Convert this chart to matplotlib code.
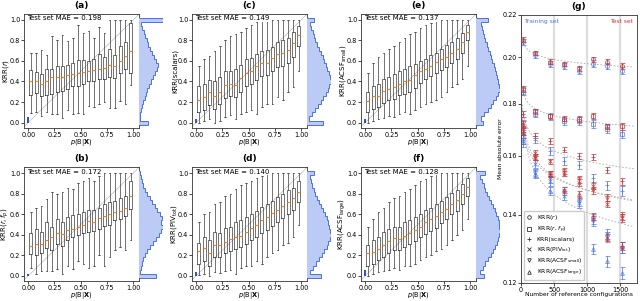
import matplotlib
matplotlib.use("Agg")
import matplotlib.pyplot as plt
from matplotlib.lines import Line2D
import numpy as np


FS = 5.0
FS_TICK = 4.7
FS_G = 4.3
BOX_C = "#3a3a3a"
HIST_FILL = "#bccbf6"
HIST_EDGE = "#4a6fe3"
RED = "#c53a3a"
BLUE = "#4f74e3"

# ---------------- panels (a)-(f): binned box plots -----------------
bin_centres = np.linspace(0.025, 0.975, 20)
hist_edges = np.linspace(-0.02, 1.02, 27)

panel_tags = ["(a)", "(b)", "(c)", "(d)", "(e)", "(f)"]
panel_ylabels = ["KRR($r$)", "KRR($r, f_p$)", "KRR(scalars)",
                 "KRR(PIV$_{\\rm tot}$)", "KRR(ACSF$_{\\rm small}$)",
                 "KRR(ACSF$_{\\rm large}$)"]
panel_mae = [0.198, 0.172, 0.149, 0.140, 0.137, 0.128]
zero_tail = [0.05, 0.02, 0.03, 0.04, 0.03, 0.06]

a_med = [0.40, 0.40, 0.38, 0.40, 0.44, 0.44, 0.44, 0.46, 0.47, 0.48, 0.49, 0.50, 0.51, 0.52, 0.53, 0.56, 0.55, 0.60, 0.65, 0.70]
a_q1 = [0.27, 0.29, 0.26, 0.27, 0.28, 0.30, 0.31, 0.33, 0.36, 0.36, 0.38, 0.40, 0.40, 0.42, 0.42, 0.44, 0.43, 0.48, 0.52, 0.48]
a_q3 = [0.51, 0.49, 0.47, 0.52, 0.52, 0.55, 0.55, 0.56, 0.58, 0.61, 0.61, 0.60, 0.62, 0.67, 0.64, 0.72, 0.66, 0.75, 0.78, 0.97]
a_lo = [0.09, 0.10, 0.06, 0.10, 0.08, 0.08, 0.04, 0.12, 0.08, 0.09, 0.08, 0.16, 0.15, 0.18, 0.20, 0.14, 0.14, 0.21, 0.18, 0.37]
a_hi = [0.68, 0.68, 0.71, 0.66, 0.84, 0.80, 0.85, 0.79, 0.82, 0.95, 0.87, 0.89, 0.82, 0.93, 0.87, 1.00, 1.00, 1.00, 1.00, 1.00]

b_med = [0.29, 0.31, 0.31, 0.35, 0.38, 0.42, 0.41, 0.45, 0.46, 0.48, 0.50, 0.53, 0.52, 0.56, 0.58, 0.60, 0.62, 0.63, 0.66, 0.78]
b_q1 = [0.21, 0.20, 0.22, 0.27, 0.25, 0.31, 0.29, 0.35, 0.38, 0.40, 0.42, 0.43, 0.44, 0.46, 0.49, 0.50, 0.54, 0.55, 0.58, 0.65]
b_q3 = [0.42, 0.46, 0.43, 0.52, 0.48, 0.55, 0.52, 0.57, 0.59, 0.60, 0.62, 0.64, 0.64, 0.66, 0.70, 0.72, 0.73, 0.76, 0.78, 0.92]
b_lo = [0.08, 0.02, 0.05, 0.05, 0.05, 0.07, 0.02, 0.10, 0.07, 0.14, 0.12, 0.08, 0.10, 0.20, 0.10, 0.18, 0.25, 0.28, 0.25, 0.35]
b_hi = [0.62, 0.66, 0.68, 0.75, 0.82, 0.80, 0.82, 0.86, 0.85, 0.90, 0.92, 0.95, 0.92, 0.97, 1.00, 1.00, 1.00, 1.00, 1.00, 1.00]

c_med = [0.22, 0.25, 0.30, 0.26, 0.30, 0.37, 0.38, 0.37, 0.43, 0.48, 0.50, 0.55, 0.58, 0.58, 0.63, 0.67, 0.68, 0.71, 0.77, 0.85]
c_q1 = [0.10, 0.12, 0.17, 0.13, 0.18, 0.24, 0.26, 0.25, 0.30, 0.36, 0.38, 0.41, 0.45, 0.46, 0.50, 0.54, 0.55, 0.58, 0.64, 0.75]
c_q3 = [0.36, 0.38, 0.41, 0.40, 0.44, 0.50, 0.50, 0.52, 0.56, 0.62, 0.63, 0.67, 0.70, 0.71, 0.74, 0.78, 0.80, 0.82, 0.88, 0.94]
c_lo = [0.00, 0.02, 0.03, 0.00, 0.02, 0.05, 0.07, 0.03, 0.08, 0.10, 0.12, 0.08, 0.15, 0.18, 0.18, 0.25, 0.22, 0.30, 0.35, 0.50]
c_hi = [0.55, 0.62, 0.65, 0.70, 0.75, 0.80, 0.84, 0.86, 0.88, 0.92, 0.95, 0.98, 1.00, 1.00, 1.00, 1.00, 1.00, 1.00, 1.00, 1.00]

d_med = [0.24, 0.27, 0.22, 0.30, 0.30, 0.33, 0.36, 0.38, 0.39, 0.43, 0.47, 0.50, 0.54, 0.57, 0.61, 0.64, 0.68, 0.72, 0.76, 0.82]
d_q1 = [0.12, 0.14, 0.10, 0.18, 0.18, 0.22, 0.24, 0.26, 0.28, 0.31, 0.35, 0.38, 0.42, 0.45, 0.49, 0.52, 0.56, 0.60, 0.64, 0.72]
d_q3 = [0.32, 0.38, 0.35, 0.43, 0.42, 0.47, 0.48, 0.52, 0.54, 0.57, 0.60, 0.63, 0.67, 0.70, 0.73, 0.77, 0.80, 0.84, 0.86, 0.92]
d_lo = [0.01, 0.02, 0.00, 0.04, 0.03, 0.05, 0.06, 0.02, 0.08, 0.10, 0.10, 0.14, 0.12, 0.18, 0.22, 0.25, 0.30, 0.32, 0.38, 0.50]
d_hi = [0.52, 0.60, 0.62, 0.70, 0.72, 0.78, 0.80, 0.85, 0.88, 0.90, 0.92, 0.95, 0.97, 1.00, 1.00, 1.00, 1.00, 1.00, 1.00, 1.00]

e_med = [0.21, 0.26, 0.26, 0.31, 0.33, 0.35, 0.38, 0.40, 0.41, 0.46, 0.50, 0.52, 0.55, 0.59, 0.62, 0.64, 0.68, 0.72, 0.78, 0.88]
e_q1 = [0.10, 0.13, 0.15, 0.19, 0.22, 0.23, 0.27, 0.28, 0.30, 0.34, 0.39, 0.42, 0.45, 0.48, 0.51, 0.54, 0.58, 0.62, 0.68, 0.80]
e_q3 = [0.30, 0.36, 0.38, 0.42, 0.44, 0.47, 0.50, 0.52, 0.55, 0.57, 0.60, 0.62, 0.66, 0.68, 0.72, 0.76, 0.78, 0.82, 0.87, 0.95]
e_lo = [0.00, 0.02, 0.03, 0.04, 0.06, 0.05, 0.08, 0.10, 0.08, 0.12, 0.15, 0.18, 0.20, 0.22, 0.25, 0.30, 0.35, 0.38, 0.42, 0.55]
e_hi = [0.48, 0.58, 0.64, 0.68, 0.72, 0.75, 0.78, 0.82, 0.86, 0.88, 0.92, 0.95, 0.97, 1.00, 1.00, 1.00, 1.00, 1.00, 1.00, 1.00]

f_med = [0.22, 0.23, 0.26, 0.30, 0.34, 0.37, 0.36, 0.39, 0.42, 0.45, 0.48, 0.52, 0.55, 0.58, 0.62, 0.65, 0.70, 0.74, 0.80, 0.87]
f_q1 = [0.10, 0.12, 0.15, 0.18, 0.22, 0.25, 0.25, 0.28, 0.31, 0.34, 0.38, 0.41, 0.44, 0.47, 0.51, 0.55, 0.60, 0.63, 0.70, 0.78]
f_q3 = [0.30, 0.35, 0.38, 0.43, 0.46, 0.48, 0.48, 0.52, 0.54, 0.57, 0.60, 0.64, 0.66, 0.70, 0.73, 0.77, 0.81, 0.84, 0.89, 0.95]
f_lo = [0.00, 0.02, 0.04, 0.05, 0.06, 0.08, 0.06, 0.10, 0.10, 0.12, 0.15, 0.18, 0.20, 0.24, 0.26, 0.30, 0.35, 0.40, 0.45, 0.55]
f_hi = [0.48, 0.55, 0.62, 0.66, 0.72, 0.76, 0.78, 0.82, 0.85, 0.88, 0.92, 0.94, 0.97, 1.00, 1.00, 1.00, 1.00, 1.00, 1.00, 1.00]

# marginal histograms of predictions (relative counts, bottom -> top)
a_hist = [0.38, 0.04, 0.06, 0.10, 0.14, 0.18, 0.24, 0.30, 0.36, 0.44, 0.52, 0.60, 0.68, 0.76, 0.80, 0.72, 0.64, 0.56, 0.48, 0.40, 0.32, 0.26, 0.20, 0.14, 0.10, 1.00]
b_hist = [0.74, 0.04, 0.08, 0.12, 0.18, 0.26, 0.36, 0.48, 0.60, 0.74, 0.86, 0.95, 1.00, 0.92, 0.96, 0.88, 0.78, 0.68, 0.56, 0.46, 0.36, 0.26, 0.18, 0.12, 0.08, 0.05]
c_hist = [0.70, 0.10, 0.22, 0.36, 0.48, 0.58, 0.70, 0.80, 0.88, 0.94, 1.00, 0.96, 0.92, 0.86, 0.80, 0.74, 0.66, 0.58, 0.50, 0.42, 0.36, 0.30, 0.24, 0.18, 0.12, 0.30]
d_hist = [0.60, 0.12, 0.24, 0.38, 0.52, 0.64, 0.74, 0.84, 0.90, 0.96, 1.00, 0.97, 0.94, 0.90, 0.84, 0.76, 0.68, 0.60, 0.52, 0.44, 0.36, 0.28, 0.22, 0.16, 0.12, 0.30]
e_hist = [0.30, 0.20, 0.35, 0.50, 0.62, 0.74, 0.86, 0.94, 1.00, 0.98, 0.92, 0.90, 0.86, 0.80, 0.76, 0.70, 0.64, 0.58, 0.52, 0.46, 0.40, 0.36, 0.30, 0.24, 0.20, 0.50]
f_hist = [0.35, 0.15, 0.28, 0.40, 0.52, 0.64, 0.74, 0.82, 0.88, 0.92, 0.96, 1.00, 0.98, 0.96, 0.92, 0.86, 0.80, 0.72, 0.64, 0.56, 0.48, 0.40, 0.32, 0.24, 0.18, 0.40]

box_data = [
    (a_med, a_q1, a_q3, a_lo, a_hi, a_hist),
    (b_med, b_q1, b_q3, b_lo, b_hi, b_hist),
    (c_med, c_q1, c_q3, c_lo, c_hi, c_hist),
    (d_med, d_q1, d_q3, d_lo, d_hi, d_hist),
    (e_med, e_q1, e_q3, e_lo, e_hi, e_hist),
    (f_med, f_q1, f_q3, f_lo, f_hi, f_hist),
]

# ---------------- panel (g): learning curves -----------------
n_ref = [25, 210, 430, 650, 870, 1085, 1300, 1520]
series_labels = ["KRR($r$)", "KRR($r$, $f_p$)", "KRR(scalars)", "KRR(PIV$_{\\rm tot}$)",
                 "KRR(ACSF$_{\\rm small}$)", "KRR(ACSF$_{\\rm large}$)"]
series_markers = ["o", "s", "+", "x", "v", "^"]

test_r = [0.208, 0.202, 0.198, 0.197, 0.195, 0.199, 0.198, 0.196]
train_r = [0.207, 0.201, 0.197, 0.196, 0.194, 0.197, 0.196, 0.194]
test_rfp = [0.186, 0.177, 0.175, 0.174, 0.174, 0.175, 0.171, 0.171]
train_rfp = [0.185, 0.176, 0.175, 0.173, 0.173, 0.172, 0.170, 0.168]
test_scal = [0.176, 0.1675, 0.1655, 0.1622, 0.160, 0.1596, 0.155, 0.151]
train_scal = [0.172, 0.166, 0.1618, 0.158, 0.1567, 0.152, 0.1497, 0.1478]
test_piv = [0.172, 0.161, 0.158, 0.1537, 0.1506, 0.1496, 0.1435, 0.139]
train_piv = [0.168, 0.157, 0.151, 0.1462, 0.1437, 0.1387, 0.1342, 0.130]
test_small = [0.170, 0.1595, 0.1537, 0.1545, 0.1517, 0.148, 0.1455, 0.1396]
train_small = [0.166, 0.1538, 0.152, 0.1478, 0.1442, 0.138, 0.1333, 0.130]
test_large = [0.169, 0.1595, 0.1535, 0.148, 0.1467, 0.1396, 0.133, 0.1306]
train_large = [0.165, 0.1535, 0.1478, 0.1396, 0.136, 0.1296, 0.126, 0.1227]

test_err = [0.0012, 0.0010, 0.0010, 0.0010, 0.0011, 0.0011, 0.0011, 0.0012]
train_err = [0.0016, 0.0014, 0.0014, 0.0014, 0.0015, 0.0015, 0.0015, 0.0016]

test_all = [test_r, test_rfp, test_scal, test_piv, test_small, test_large]
train_all = [train_r, train_rfp, train_scal, train_piv, train_small, train_large]


plt.rcParams["font.family"] = "DejaVu Sans"
plt.rcParams["axes.linewidth"] = 0.6
plt.rcParams["axes.edgecolor"] = "#333333"

fig = plt.figure(figsize=(6.4, 3.01), dpi=100)
W, H = 640.0, 301.0

col_left = [24, 192, 361]
row_bottom = [127.7, 281.0]
ax_w, ax_h, hist_w = 115, 114, 24

for i, (med, q1, q3, lo, hi, hcounts) in enumerate(box_data):
    row, col = i % 2, i // 2
    left = col_left[col] / W
    bottom = 1 - row_bottom[row] / H
    ax = fig.add_axes([left, bottom, ax_w / W, ax_h / H])

    ax.plot([-0.1, 1.2], [-0.1, 1.2], color="#bbbbbb", lw=0.5, zorder=1)
    ax.vlines(0, 0, zero_tail[i], color="#1f3fbf", lw=1.3, zorder=2)

    stats = [dict(med=m, q1=a, q3=b, whislo=l, whishi=h, fliers=[])
             for m, a, b, l, h in zip(med, q1, q3, lo, hi)]
    ax.bxp(stats, positions=bin_centres, widths=0.03, showfliers=False,
           boxprops=dict(color=BOX_C, lw=0.5),
           whiskerprops=dict(color=BOX_C, lw=0.5),
           capprops=dict(color=BOX_C, lw=0.5),
           medianprops=dict(color="#ff7f0e", lw=0.8), manage_ticks=False)

    ax.set_xlim(-0.04, 1.055)
    ax.set_ylim(-0.05, 1.06)
    ax.set_xticks([0, 0.25, 0.5, 0.75, 1.0])
    ax.set_xticklabels(["0.00", "0.25", "0.50", "0.75", "1.00"])
    ax.set_yticks([0, 0.2, 0.4, 0.6, 0.8, 1.0])
    ax.tick_params(labelsize=FS_TICK, length=2, width=0.5, pad=0.8)
    ax.set_xlabel("$p$(B|$\\mathbf{X}$)", fontsize=4.8)
    ax.xaxis.set_label_coords(0.5, -0.08)
    ax.set_ylabel(panel_ylabels[i], fontsize=FS)
    ax.yaxis.set_label_coords(-0.115, 0.5)
    ax.set_title(panel_tags[i], fontsize=6.5, fontweight="bold", pad=4)
    ax.text(0.025, 0.985, f"Test set MAE = {panel_mae[i]:.3f}", transform=ax.transAxes,
            fontsize=FS, va="top", ha="left",
            bbox=dict(fc="white", ec="none", pad=0.4))

    hax = fig.add_axes([left + ax_w / W, bottom, hist_w / W, ax_h / H])
    hax.stairs(hcounts, hist_edges, orientation="horizontal", fill=True,
               color=HIST_FILL, lw=0)
    hax.stairs(hcounts, hist_edges, orientation="horizontal", fill=False,
               color=HIST_EDGE, lw=0.7)
    hax.set_ylim(-0.05, 1.06)
    hax.set_xlim(0, max(hcounts) * 1.02)
    hax.axis("off")

# panel g
gax = fig.add_axes([521 / W, 1 - 283 / H, 116 / W, 268 / H])
gax.set_yscale("log")
xfit = np.linspace(20, 1700, 200)
for te, tr, mk in zip(test_all, train_all, series_markers):
    k, c0 = np.polyfit(np.log(n_ref), np.log(te), 1)
    gax.plot(xfit, np.exp(c0) * xfit ** k, ls=(0, (2, 2)), color="#aaaaaa", lw=0.6, zorder=1)
    gax.errorbar(n_ref, tr, yerr=train_err, fmt=mk, ms=2.8, mfc="none", mec=BLUE,
                 ecolor=BLUE, mew=0.6, elinewidth=0.7, capsize=1.8, capthick=0.7,
                 alpha=0.8, zorder=2)
    gax.errorbar(n_ref, te, yerr=test_err, fmt=mk, ms=2.8, mfc="none", mec=RED,
                 ecolor=RED, mew=0.6, elinewidth=0.7, capsize=1.8, capthick=0.7,
                 alpha=0.85, zorder=3)

gax.set_xlim(0, 1750)
gax.set_ylim(0.12, 0.22)
gax.set_xticks([0, 500, 1000, 1500])
gax.set_yticks([0.12, 0.14, 0.16, 0.18, 0.20, 0.22])
gax.set_yticklabels(["0.12", "0.14", "0.16", "0.18", "0.20", "0.22"])
gax.yaxis.set_minor_locator(matplotlib.ticker.NullLocator())
gax.grid(axis="x", color="#dddddd", lw=1.6, zorder=0)
gax.set_axisbelow(True)
gax.tick_params(labelsize=FS_TICK, length=2, width=0.5, pad=1)
gax.set_xlabel("Number of reference configurations", fontsize=FS_G)
gax.xaxis.set_label_coords(0.5, -0.035)
gax.set_ylabel("Mean absolute error", fontsize=FS_G)
gax.yaxis.set_label_coords(-0.155, 0.5)
gax.set_title("(g)", fontsize=6.5, fontweight="bold", pad=4)
gax.text(0.03, 0.985, "Training set", transform=gax.transAxes, color=BLUE,
         fontsize=FS_G, va="top", ha="left")
gax.text(0.97, 0.985, "Test set", transform=gax.transAxes, color=RED,
         fontsize=FS_G, va="top", ha="right")

handles = [Line2D([], [], ls="none", marker=mk, ms=2.6, mfc="none", mec="#333333", mew=0.6)
           for mk in series_markers]
gax.legend(handles, series_labels, loc="lower left", fontsize=FS_G, frameon=True,
           handlelength=1.0, handletextpad=0.7, borderpad=0.4, labelspacing=0.4,
           borderaxespad=0.5, fancybox=False, edgecolor="#cccccc", framealpha=1)

fig.savefig("out.png", dpi=100)
